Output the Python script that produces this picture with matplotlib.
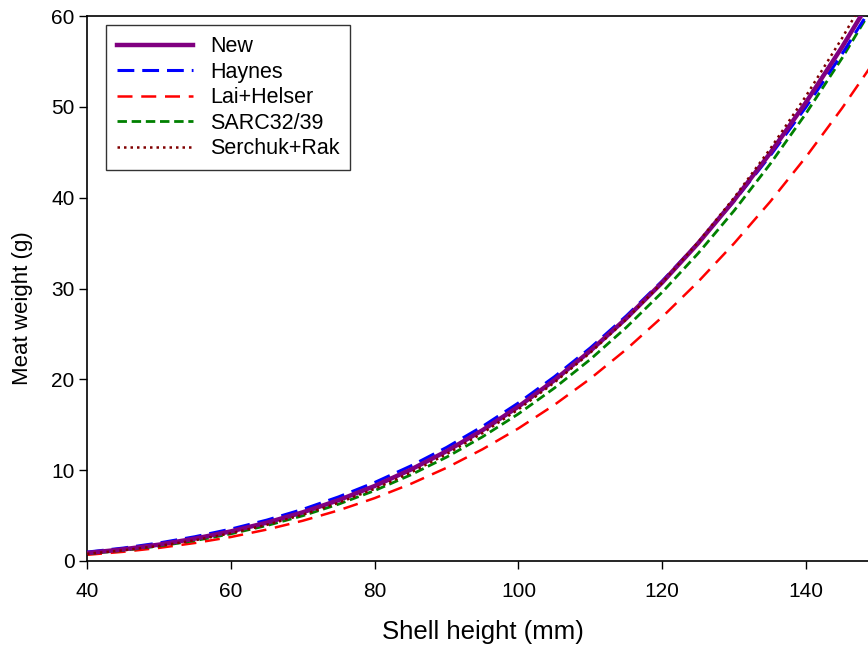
import matplotlib
matplotlib.use("Agg")
import matplotlib.pyplot as plt

plt.rcParams['font.family'] = ['Liberation Sans', 'DejaVu Sans']

shell_height = [40, 45, 50, 55, 60, 65, 70, 75, 80, 85, 90, 95, 100,
                105, 110, 115, 120, 125, 130, 135, 140, 145, 150]

new = [0.88, 1.28, 1.80, 2.46, 3.26, 4.22, 5.36, 6.70, 8.26, 10.05, 12.09, 14.40, 17.00,
       19.91, 23.14, 26.72, 30.67, 34.99, 39.73, 44.90, 50.51, 56.58, 63.10]
haynes = [0.98, 1.42, 1.98, 2.67, 3.51, 4.50, 5.68, 7.06, 8.64, 10.45, 12.50, 14.81, 17.40,
          20.28, 23.46, 26.98, 30.83, 35.04, 39.63, 44.61, 50.00, 55.82, 62.08]
lai_helser = [0.68, 1.01, 1.44, 1.98, 2.64, 3.46, 4.43, 5.58, 6.92, 8.48, 10.26, 12.30, 14.60,
              17.19, 20.08, 23.30, 26.87, 30.75, 34.98, 39.55, 44.50, 49.85, 55.60]
sarc = [0.78, 1.16, 1.64, 2.24, 2.99, 3.90, 4.98, 6.26, 7.75, 9.47, 11.43, 13.67, 16.20,
        19.04, 22.20, 25.72, 29.60, 33.88, 38.58, 43.70, 49.29, 55.36, 61.93]
serchuk_rak = [0.79, 1.17, 1.66, 2.28, 3.05, 3.98, 5.09, 6.41, 7.94, 9.72, 11.76, 14.08, 16.70,
               19.65, 22.94, 26.60, 30.65, 35.10, 40.01, 45.36, 51.21, 57.56, 64.44]

x_ticks = [40, 60, 80, 100, 120, 140]
y_ticks = [0, 10, 20, 30, 40, 50, 60]

fig = plt.figure(figsize=(8.68, 6.48), dpi=100)
ax = fig.add_axes([87/868, 87/648, (878-87)/868, 545/648])

ax.plot(shell_height, haynes, color='#0000FF', lw=2.2, ls=(0, (5.5, 2.6)), label='Haynes', zorder=3)
ax.plot(shell_height, lai_helser, color='#FF0000', lw=1.8, ls=(0, (6.0, 3.5)), label='Lai+Helser', zorder=2)
ax.plot(shell_height, sarc, color='#008000', lw=2.0, ls=(0, (3.4, 1.7)), label='SARC32/39', zorder=2)
ax.plot(shell_height, new, color='#800080', lw=3.2, ls='-', label='New', zorder=4)
ax.plot(shell_height, serchuk_rak, color='#800000', lw=1.8, ls=(0, (1, 1.6)), label='Serchuk+Rak', zorder=5)

ax.set_xlim(40, 150)
ax.set_ylim(0, 60)
ax.set_xticks(x_ticks)
ax.set_yticks(y_ticks)
ax.tick_params(direction='out', length=6, width=1, labelsize=15, top=False, right=False)
ax.tick_params(axis='x', pad=9)
ax.tick_params(axis='y', pad=3)
for s in ax.spines.values():
    s.set_linewidth(1.2)

ax.set_xlabel('Shell height (mm)', fontsize=18.5, labelpad=14)
ax.set_ylabel('Meat weight (g)', fontsize=16, labelpad=14)
ax.yaxis.set_label_coords(-0.068, (561 - 308) / 545)

handles, labels = ax.get_legend_handles_labels()
order = [labels.index(l) for l in ['New', 'Haynes', 'Lai+Helser', 'SARC32/39', 'Serchuk+Rak']]
leg = ax.legend([handles[i] for i in order], [labels[i] for i in order],
                loc='upper left', bbox_to_anchor=((106 - 87) / (878 - 87), (561 - 25) / 545),
                bbox_transform=ax.transAxes,
                fontsize=15.5, frameon=True, fancybox=False, edgecolor='black',
                handlelength=3.5, handletextpad=0.8, labelspacing=0.21, borderpad=0.52,
                borderaxespad=0)
leg.get_frame().set_linewidth(1.0)

fig.savefig('out.png', dpi=100)
